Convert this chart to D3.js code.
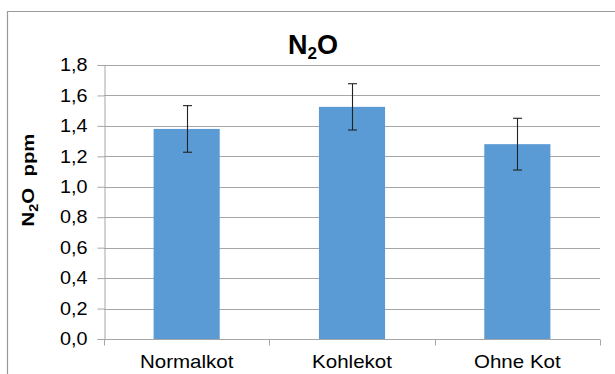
<!DOCTYPE html>
<html><head><meta charset="utf-8">
<script src="https://cdn.jsdelivr.net/npm/d3@7"></script>
<style>body{margin:0;background:#fff}svg{display:block}</style>
</head><body>
<script>
const categories = ["Normalkot", "Kohlekot", "Ohne Kot"];
const values = [1.38, 1.525, 1.28];
const errors = [0.153, 0.152, 0.17];
const yTicks = [0, 0.2, 0.4, 0.6, 0.8, 1.0, 1.2, 1.4, 1.6, 1.8];

(function () {
const W = 615, H = 374;
const svg = d3.select("body").append("svg").attr("width", W).attr("height", H);
const font = "'Liberation Sans', Arial, sans-serif";

// outer border
svg.append("path").attr("d", `M7.5,${H}V11.5H${W}`).attr("fill", "none").attr("stroke", "#999").attr("stroke-width", 1.2);

const pL = 104, pR = 600, pT = 65, pB = 339;
const x = d3.scaleBand().domain(categories).range([pL, pR]).paddingInner(0.6).paddingOuter(0.3);
const y = d3.scaleLinear().domain([0, 1.8]).range([pB, pT]);
const fmt = d => d3.format(".1f")(d).replace(".", ",");

// gridlines
svg.append("g").selectAll("line").data(yTicks.filter(d => d > 0)).join("line")
  .attr("x1", pL).attr("x2", pR)
  .attr("y1", d => Math.round(y(d)) + 0.5).attr("y2", d => Math.round(y(d)) + 0.5)
  .attr("stroke", "#a6a6a6").attr("stroke-width", 1);

// y axis
const yAxis = svg.append("g").attr("transform", `translate(${pL + 0.5},0)`)
  .call(d3.axisLeft(y).tickValues(yTicks).tickFormat(fmt).tickSize(7).tickPadding(10));
yAxis.select(".domain").attr("stroke", "#a6a6a6");
yAxis.selectAll(".tick line").attr("stroke", "#a6a6a6");
yAxis.selectAll(".tick text").each(function () {
  const el = d3.select(this);
  el.attr("x", 0).attr("transform", "translate(-17,0) scale(1.1,1)")
    .attr("font-family", font).attr("font-size", 18).attr("fill", "#000");
});

// x axis
const xOuter = d3.scalePoint().domain([0,1,2,3]).range([pL, pR]);
const xAxisG = svg.append("g").attr("transform", `translate(0,${pB + 0.5})`);
xAxisG.append("line").attr("x1", pL).attr("x2", pR).attr("stroke", "#a6a6a6");
xAxisG.selectAll("line.t").data([0,1,2,3]).join("line").attr("class", "t")
  .attr("x1", d => Math.round(xOuter(d)) + 0.5).attr("x2", d => Math.round(xOuter(d)) + 0.5)
  .attr("y1", 0).attr("y2", 6).attr("stroke", "#a6a6a6");
xAxisG.selectAll("text").data(categories).join("text")
  .attr("transform", d => `translate(${x(d) + x.bandwidth() / 2},28.5) scale(1.14,1)`)
  .attr("text-anchor", "middle").attr("font-family", font).attr("font-size", 18)
  .attr("fill", "#000").text(d => d);

// bars
svg.append("g").selectAll("rect").data(categories).join("rect")
  .attr("x", d => x(d)).attr("width", x.bandwidth())
  .attr("y", (d, i) => y(values[i])).attr("height", (d, i) => pB - y(values[i]))
  .attr("fill", "#5b9bd5");

// error bars
const eb = svg.append("g").attr("stroke", "#222").attr("stroke-width", 1.1);
categories.forEach((c, i) => {
  const cx = Math.round(x(c) + x.bandwidth() / 2) + 0.5;
  const y1 = y(values[i] + errors[i]), y2 = y(values[i] - errors[i]);
  eb.append("line").attr("x1", cx).attr("x2", cx).attr("y1", y1).attr("y2", y2);
  eb.append("line").attr("x1", cx - 4.5).attr("x2", cx + 4.5).attr("y1", y1).attr("y2", y1);
  eb.append("line").attr("x1", cx - 4.5).attr("x2", cx + 4.5).attr("y1", y2).attr("y2", y2);
});

// title
const t = svg.append("text").attr("x", 313).attr("y", 53.5).attr("text-anchor", "middle")
  .attr("font-family", font).attr("font-weight", "bold").attr("font-size", 27).attr("fill", "#000");
t.append("tspan").text("N");
t.append("tspan").attr("font-size", 17).attr("dy", 5).text("2");
t.append("tspan").attr("dy", -5).text("O");

// y label
const yl = svg.append("text").attr("transform", "translate(34,180) rotate(-90) scale(1.2,1)").attr("text-anchor", "middle")
  .attr("font-family", font).attr("font-weight", "bold").attr("font-size", 17).attr("fill", "#000");
yl.append("tspan").text("N");
yl.append("tspan").attr("font-size", 12).attr("dy", 4).text("2");
yl.append("tspan").attr("dy", -4).attr("xml:space", "preserve").text("O  ppm");
})();
</script>
</body></html>
